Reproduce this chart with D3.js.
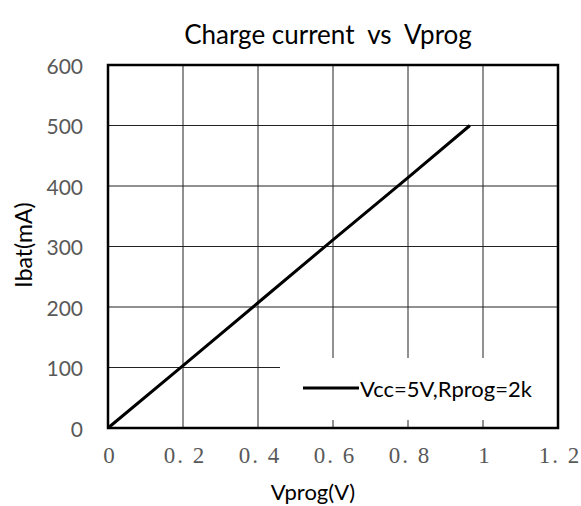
<!DOCTYPE html>
<html>
<head>
<meta charset="utf-8">
<script src="https://cdn.jsdelivr.net/npm/d3@7"></script>
<style>
  body { margin: 0; background: #fff; }
</style>
</head>
<body>
<svg id="chart" width="581" height="506"></svg>
<script>
// data
const vprog = [0, 0.2, 0.4, 0.6, 0.8, 0.965]
const ibat = [0, 103, 207, 311, 414, 500]
const xTicks = [0, 0.2, 0.4, 0.6, 0.8, 1, 1.2]
const xTickLabels = ["0", "0.2", "0.4", "0.6", "0.8", "1", "1.2"]
const yTicks = [0, 100, 200, 300, 400, 500, 600]
const seriesName = "Vcc=5V,Rprog=2k"

const svg = d3.select("#chart")
const plotL = 108, plotR = 558, plotT = 65, plotB = 428
const sans = "Lato, 'Open Sans', sans-serif"

const x = d3.scaleLinear().domain([0, 1.2]).range([plotL, plotR])
const y = d3.scaleLinear().domain([0, 600]).range([plotB, plotT])

// gridlines
svg.append("g")
  .selectAll("line")
  .data(xTicks.slice(1, -1))
  .join("line")
    .attr("x1", d => x(d)).attr("x2", d => x(d))
    .attr("y1", plotT).attr("y2", plotB)
    .attr("stroke", "#222").attr("stroke-width", 1)

svg.append("g")
  .selectAll("line")
  .data(yTicks.slice(1, -1))
  .join("line")
    .attr("x1", plotL).attr("x2", plotR)
    .attr("y1", d => y(d)).attr("y2", d => y(d))
    .attr("stroke", "#222").attr("stroke-width", 1)

// legend box (white, hides gridlines behind it)
svg.append("rect")
  .attr("x", 280).attr("y", 358)
  .attr("width", plotR - 281).attr("height", 62)
  .attr("fill", "#fff")

// plot frame
svg.append("rect")
  .attr("x", plotL).attr("y", plotT)
  .attr("width", plotR - plotL).attr("height", plotB - plotT)
  .attr("fill", "none")
  .attr("stroke", "#000")
  .attr("stroke-width", 2.5)

// the series
const line = d3.line().x((d, i) => x(vprog[i])).y(d => y(d))
svg.append("path")
  .datum(ibat)
  .attr("d", line)
  .attr("fill", "none")
  .attr("stroke", "#000")
  .attr("stroke-width", 3)

// y tick labels
svg.append("g")
  .selectAll("text")
  .data(yTicks)
  .join("text")
    .attr("x", 83)
    .attr("y", d => y(d))
    .attr("text-anchor", "end")
    .attr("dominant-baseline", "central")
    .attr("fill", "#595959")
    .style("font-family", sans)
    .style("font-size", "21px")
    .text(d => d)

// x tick labels (serif, wide spacing like the original)
svg.append("g")
  .selectAll("text")
  .data(xTicks)
  .join("text")
    .attr("x", d => x(d) + 2)
    .attr("y", 463)
    .attr("text-anchor", "middle")
    .attr("fill", "#595959")
    .style("font-family", "'Liberation Serif', 'DejaVu Serif', serif")
    .style("font-size", "23px")
    .style("letter-spacing", "2px")
    .text((d, i) => xTickLabels[i].replace(".", ". "))

// title and axis titles
svg.append("text")
  .attr("x", 328).attr("y", 44)
  .attr("text-anchor", "middle")
  .style("font-family", sans)
  .style("font-size", "26px")
  .style("white-space", "pre")
  .text("Charge current  vs  Vprog")

svg.append("text")
  .attr("x", 313).attr("y", 500)
  .attr("text-anchor", "middle")
  .style("font-family", sans)
  .style("font-size", "22px")
  .text("Vprog(V)")

svg.append("text")
  .attr("transform", "translate(32,245) rotate(-90)")
  .attr("text-anchor", "middle")
  .style("font-family", sans)
  .style("font-size", "23px")
  .text("Ibat(mA)")

// legend
svg.append("line")
  .attr("x1", 303).attr("x2", 359)
  .attr("y1", 388).attr("y2", 388)
  .attr("stroke", "#000").attr("stroke-width", 3)

svg.append("text")
  .attr("x", 360).attr("y", 397)
  .style("font-family", sans)
  .style("font-size", "22px")
  .text(seriesName)
</script>
</body>
</html>
